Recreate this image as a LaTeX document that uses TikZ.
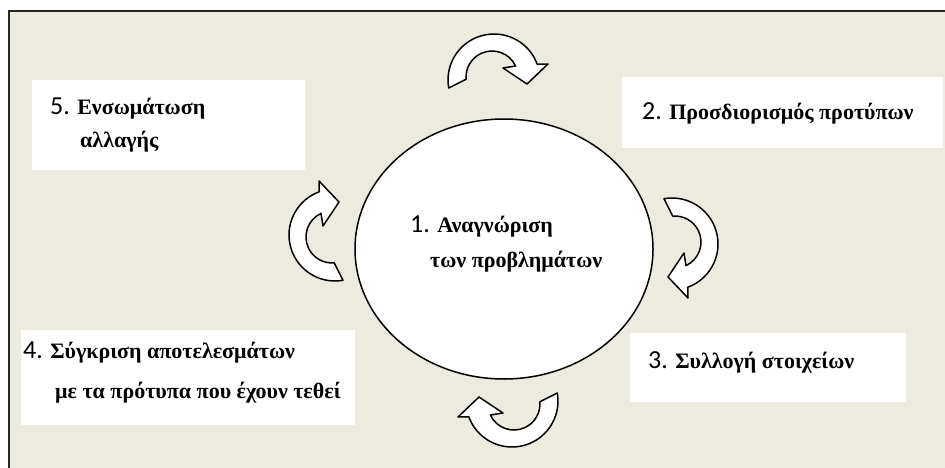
\documentclass[tikz,border=0pt]{standalone}
\usepackage{fontspec}
\usetikzlibrary{shapes.geometric}
\setmainfont{Liberation Serif}
\newfontfamily\numfont{Carlito}
\newcommand{\nm}[1]{{\numfont\mdseries\fontsize{26}{28}\selectfont #1}}
\definecolor{bgc}{RGB}{237,235,224}
\tikzset{
  boxst/.style={fill=white, draw=none, inner sep=0pt, anchor=north west},
  txt/.style={anchor=base west, inner sep=0pt, font=\fontsize{22}{26}\selectfont\bfseries},
  arrowshape/.style={draw=black, fill=white, line width=1.5pt, line join=round},
  cyc/.pic={
    \draw[arrowshape] (-47.3,-28) arc[start angle=190,end angle=20,radius=46]
      -- (52,-4) -- (31,-24) -- (7,-8) -- (19.6,-6)
      arc[start angle=25,end angle=185,radius=26] -- cycle;
  }
}
\begin{document}
\begin{tikzpicture}[x=1pt,y=1pt]
\useasboundingbox (0,0) rectangle (945,-468);
\fill[white] (0,0) rectangle (945,-468);
\fill[bgc] (9,-11) rectangle (945,-468);
\draw[line width=2pt, black!85] (9,-468) -- (9,-11) -- (945,-11);

% boxes
\node[boxst, minimum width=273, minimum height=90] (b5) at (32,-80) {};
\node[boxst, minimum width=321, minimum height=71] (b2) at (622,-77) {};
\node[boxst, minimum width=276, minimum height=69] (b3) at (630,-333) {};
\node[boxst, minimum width=334, minimum height=95] (b4) at (21,-330) {};

% circle
\node[draw=black, fill=white, line width=1.5pt, ellipse, minimum width=298, minimum height=260, inner sep=0pt] (c1) at (504,-249) {};

% texts
\node[txt] (t1a) at (410,-232) {\nm{1.} Αναγνώριση};
\node[txt] (t1b) at (430,-267) {των προβλημάτων};
\node[txt] (t2) at (642,-120) {\nm{2.} Προσδιορισμός προτύπων};
\node[txt] (t3) at (648,-368) {\nm{3.} Συλλογή στοιχείων};
\node[txt] (t4a) at (23,-358) {\nm{4.} Σύγκριση αποτελεσμάτων};
\node[txt] (t4b) at (55,-398) {με τα πρότυπα που έχουν τεθεί};
\node[txt] (t5a) at (50,-115) {\nm{5.} Ενσωμάτωση};
\node[txt] (t5b) at (80,-147) {αλλαγής};

% cycle arrows
\pic (a1) at (496,-60) {cyc};
\pic[rotate=-90] (a2) at (692,-246) {cyc};
\pic[rotate=180] (a3) at (510,-421) {cyc};
\pic[rotate=90] (a4) at (315,-233) {cyc};
\end{tikzpicture}
\end{document}
